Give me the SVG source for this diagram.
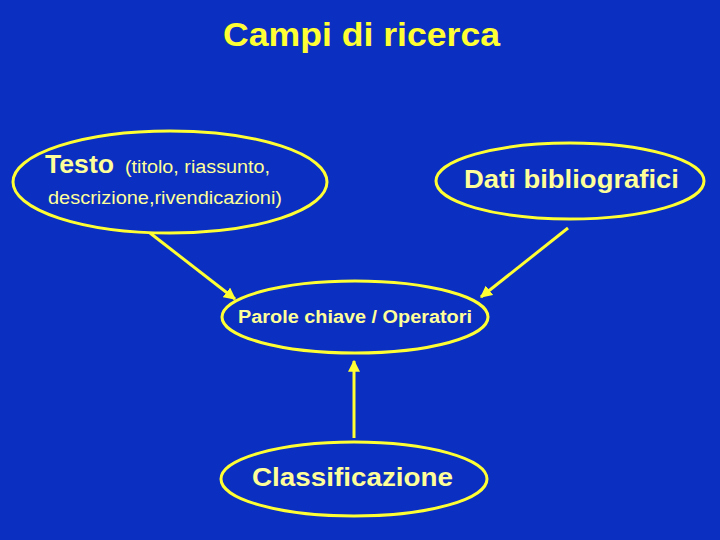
<svg xmlns="http://www.w3.org/2000/svg" width="720" height="540" viewBox="0 0 720 540">
<defs>
<style>
.node ellipse{fill:none;stroke:#ffff33;stroke-width:3}
.t{font-family:"Liberation Sans",Arial,sans-serif;fill:#ffff99}
.b{font-weight:bold}
.conn line{stroke:#ffff33;stroke-width:3}
</style>
<marker id="ah" viewBox="0 0 10 10" refX="9" refY="5" markerWidth="4" markerHeight="4" orient="auto" markerUnits="strokeWidth">
<path d="M0,0 L10,5 L0,10 z" fill="#ffff33"/>
</marker>
</defs>
<rect width="720" height="540" fill="#0b2fc0"/>
<text x="223" y="46" textLength="277" lengthAdjust="spacingAndGlyphs" font-family="Liberation Sans,Arial,sans-serif" font-weight="bold" font-size="34" fill="#ffff33">Campi di ricerca</text>
<g class="conn">
<line x1="150" y1="233" x2="235" y2="299" marker-end="url(#ah)"/>
<line x1="568" y1="228" x2="481" y2="297" marker-end="url(#ah)"/>
<line x1="354" y1="438" x2="354" y2="361" marker-end="url(#ah)"/>
</g>
<g id="testo" class="node">
<ellipse cx="170" cy="182" rx="157" ry="51"/>
<text class="t b" x="45" y="173" font-size="26" textLength="69" lengthAdjust="spacingAndGlyphs">Testo</text>
<text class="t" x="125" y="173" font-size="18" textLength="145" lengthAdjust="spacingAndGlyphs">(titolo, riassunto,</text>
<text class="t" x="48" y="204" font-size="18" textLength="234" lengthAdjust="spacingAndGlyphs">descrizione,rivendicazioni)</text>
</g>
<g id="dati" class="node">
<ellipse cx="570" cy="181" rx="134" ry="38"/>
<text class="t b" x="464" y="188" font-size="25" textLength="215" lengthAdjust="spacingAndGlyphs">Dati bibliografici</text>
</g>
<g id="parole" class="node">
<ellipse cx="355" cy="317" rx="133" ry="36"/>
<text class="t b" x="238" y="323" font-size="18" textLength="234" lengthAdjust="spacingAndGlyphs">Parole chiave / Operatori</text>
</g>
<g id="classificazione" class="node">
<ellipse cx="354" cy="479" rx="133" ry="37"/>
<text class="t b" x="252" y="486" font-size="26" textLength="201" lengthAdjust="spacingAndGlyphs">Classificazione</text>
</g>
</svg>
